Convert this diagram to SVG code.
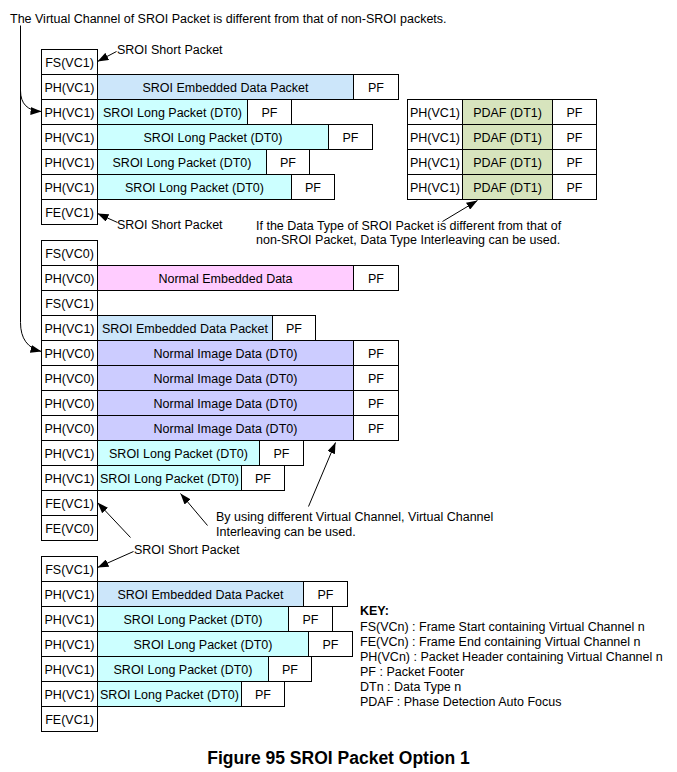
<svg xmlns="http://www.w3.org/2000/svg" width="677" height="772" viewBox="0 0 677 772">
<defs>
<style>
.c{fill:#fff;stroke:#000;stroke-width:1}
.be{fill:#cce6fa;stroke:#000;stroke-width:1}
.sl{fill:#ccffff;stroke:#000;stroke-width:1}
.ne{fill:#ffccff;stroke:#000;stroke-width:1}
.ni{fill:#ccccff;stroke:#000;stroke-width:1}
.pd{fill:#d7e4bd;stroke:#000;stroke-width:1}
text{font-family:"Liberation Sans",Arial,sans-serif;font-size:12.5px;fill:#000}
.m{text-anchor:middle}
.k{font-weight:bold}
.cap{font-weight:bold;font-size:17.5px}
.ln{fill:none;stroke:#000;stroke-width:1;marker-end:url(#ah)}
</style>
<marker id="ah" markerUnits="userSpaceOnUse" markerWidth="11" markerHeight="8" refX="11" refY="4" orient="auto">
<path d="M0,0 L11,4 L0,8 z" fill="#000"/>
</marker>
</defs>
<rect x="0" y="0" width="677" height="772" fill="#fff"/>
<text x="10" y="23">The Virtual Channel of SROI Packet is different from that of non-SROI packets.</text>
<g transform="translate(0.5,0.5)">
<!-- Section 1 -->
<g id="s1-fs"><rect class="c" x="41" y="49" width="56" height="25"/><text class="m" x="69" y="66">FS(VC1)</text></g>
<g id="s1-r1"><rect class="c" x="41" y="74" width="56" height="25"/><text class="m" x="69" y="91">PH(VC1)</text><rect class="be" x="97" y="74" width="256" height="25"/><text class="m" x="225" y="91">SROI Embedded Data Packet</text><rect class="c" x="353" y="74" width="45" height="25"/><text class="m" x="375.5" y="91">PF</text></g>
<g id="s1-r2"><rect class="c" x="41" y="99" width="56" height="25"/><text class="m" x="69" y="116">PH(VC1)</text><rect class="sl" x="97" y="99" width="150" height="25"/><text class="m" x="172" y="116">SROI Long Packet (DT0)</text><rect class="c" x="247" y="99" width="44" height="25"/><text class="m" x="269" y="116">PF</text></g>
<g id="s1-r3"><rect class="c" x="41" y="124" width="56" height="25"/><text class="m" x="69" y="141">PH(VC1)</text><rect class="sl" x="97" y="124" width="231" height="25"/><text class="m" x="212.5" y="141">SROI Long Packet (DT0)</text><rect class="c" x="328" y="124" width="44" height="25"/><text class="m" x="350" y="141">PF</text></g>
<g id="s1-r4"><rect class="c" x="41" y="149" width="56" height="25"/><text class="m" x="69" y="166">PH(VC1)</text><rect class="sl" x="97" y="149" width="169" height="25"/><text class="m" x="181.5" y="166">SROI Long Packet (DT0)</text><rect class="c" x="266" y="149" width="43" height="25"/><text class="m" x="287.5" y="166">PF</text></g>
<g id="s1-r5"><rect class="c" x="41" y="174" width="56" height="25"/><text class="m" x="69" y="191">PH(VC1)</text><rect class="sl" x="97" y="174" width="194" height="25"/><text class="m" x="194" y="191">SROI Long Packet (DT0)</text><rect class="c" x="291" y="174" width="43" height="25"/><text class="m" x="312.5" y="191">PF</text></g>
<g id="s1-fe"><rect class="c" x="41" y="199" width="56" height="25"/><text class="m" x="69" y="216">FE(VC1)</text></g>
<!-- PDAF -->
<g id="pdaf1"><rect class="c" x="407" y="99" width="55" height="25"/><text class="m" x="434.5" y="116">PH(VC1)</text><rect class="pd" x="462" y="99" width="90" height="25"/><text class="m" x="507" y="116">PDAF (DT1)</text><rect class="c" x="552" y="99" width="44" height="25"/><text class="m" x="574" y="116">PF</text></g>
<g id="pdaf2"><rect class="c" x="407" y="124" width="55" height="25"/><text class="m" x="434.5" y="141">PH(VC1)</text><rect class="pd" x="462" y="124" width="90" height="25"/><text class="m" x="507" y="141">PDAF (DT1)</text><rect class="c" x="552" y="124" width="44" height="25"/><text class="m" x="574" y="141">PF</text></g>
<g id="pdaf3"><rect class="c" x="407" y="149" width="55" height="25"/><text class="m" x="434.5" y="166">PH(VC1)</text><rect class="pd" x="462" y="149" width="90" height="25"/><text class="m" x="507" y="166">PDAF (DT1)</text><rect class="c" x="552" y="149" width="44" height="25"/><text class="m" x="574" y="166">PF</text></g>
<g id="pdaf4"><rect class="c" x="407" y="174" width="55" height="25"/><text class="m" x="434.5" y="191">PH(VC1)</text><rect class="pd" x="462" y="174" width="90" height="25"/><text class="m" x="507" y="191">PDAF (DT1)</text><rect class="c" x="552" y="174" width="44" height="25"/><text class="m" x="574" y="191">PF</text></g>
<!-- Section 2 -->
<g id="s2-fs0"><rect class="c" x="41" y="240" width="56" height="25"/><text class="m" x="69" y="257">FS(VC0)</text></g>
<g id="s2-r1"><rect class="c" x="41" y="265" width="56" height="25"/><text class="m" x="69" y="282">PH(VC0)</text><rect class="ne" x="97" y="265" width="256" height="25"/><text class="m" x="225" y="282">Normal Embedded Data</text><rect class="c" x="353" y="265" width="45" height="25"/><text class="m" x="375.5" y="282">PF</text></g>
<g id="s2-fs1"><rect class="c" x="41" y="290" width="56" height="25"/><text class="m" x="69" y="307">FS(VC1)</text></g>
<g id="s2-r2"><rect class="c" x="41" y="315" width="56" height="25"/><text class="m" x="69" y="332">PH(VC1)</text><rect class="be" x="97" y="315" width="175" height="25"/><text class="m" x="184.5" y="332">SROI Embedded Data Packet</text><rect class="c" x="272" y="315" width="43" height="25"/><text class="m" x="293.5" y="332">PF</text></g>
<g id="s2-r3"><rect class="c" x="41" y="340" width="56" height="25"/><text class="m" x="69" y="357">PH(VC0)</text><rect class="ni" x="97" y="340" width="256" height="25"/><text class="m" x="225" y="357">Normal Image Data (DT0)</text><rect class="c" x="353" y="340" width="45" height="25"/><text class="m" x="375.5" y="357">PF</text></g>
<g id="s2-r4"><rect class="c" x="41" y="365" width="56" height="25"/><text class="m" x="69" y="382">PH(VC0)</text><rect class="ni" x="97" y="365" width="256" height="25"/><text class="m" x="225" y="382">Normal Image Data (DT0)</text><rect class="c" x="353" y="365" width="45" height="25"/><text class="m" x="375.5" y="382">PF</text></g>
<g id="s2-r5"><rect class="c" x="41" y="390" width="56" height="25"/><text class="m" x="69" y="407">PH(VC0)</text><rect class="ni" x="97" y="390" width="256" height="25"/><text class="m" x="225" y="407">Normal Image Data (DT0)</text><rect class="c" x="353" y="390" width="45" height="25"/><text class="m" x="375.5" y="407">PF</text></g>
<g id="s2-r6"><rect class="c" x="41" y="415" width="56" height="25"/><text class="m" x="69" y="432">PH(VC0)</text><rect class="ni" x="97" y="415" width="256" height="25"/><text class="m" x="225" y="432">Normal Image Data (DT0)</text><rect class="c" x="353" y="415" width="45" height="25"/><text class="m" x="375.5" y="432">PF</text></g>
<g id="s2-r7"><rect class="c" x="41" y="440" width="56" height="25"/><text class="m" x="69" y="457">PH(VC1)</text><rect class="sl" x="97" y="440" width="162" height="25"/><text class="m" x="178" y="457">SROI Long Packet (DT0)</text><rect class="c" x="259" y="440" width="44" height="25"/><text class="m" x="281" y="457">PF</text></g>
<g id="s2-r8"><rect class="c" x="41" y="465" width="56" height="25"/><text class="m" x="69" y="482">PH(VC1)</text><rect class="sl" x="97" y="465" width="144" height="25"/><text class="m" x="169" y="482">SROI Long Packet (DT0)</text><rect class="c" x="241" y="465" width="43" height="25"/><text class="m" x="262.5" y="482">PF</text></g>
<g id="s2-fe1"><rect class="c" x="41" y="490" width="56" height="25"/><text class="m" x="69" y="507">FE(VC1)</text></g>
<g id="s2-fe0"><rect class="c" x="41" y="515" width="56" height="25"/><text class="m" x="69" y="532">FE(VC0)</text></g>
<!-- Section 3 -->
<g id="s3-fs"><rect class="c" x="41" y="556" width="56" height="25"/><text class="m" x="69" y="573">FS(VC1)</text></g>
<g id="s3-r1"><rect class="c" x="41" y="581" width="56" height="25"/><text class="m" x="69" y="598">PH(VC1)</text><rect class="be" x="97" y="581" width="206" height="25"/><text class="m" x="200" y="598">SROI Embedded Data Packet</text><rect class="c" x="303" y="581" width="44" height="25"/><text class="m" x="325" y="598">PF</text></g>
<g id="s3-r2"><rect class="c" x="41" y="606" width="56" height="25"/><text class="m" x="69" y="623">PH(VC1)</text><rect class="sl" x="97" y="606" width="191" height="25"/><text class="m" x="192.5" y="623">SROI Long Packet (DT0)</text><rect class="c" x="288" y="606" width="44" height="25"/><text class="m" x="310" y="623">PF</text></g>
<g id="s3-r3"><rect class="c" x="41" y="631" width="56" height="25"/><text class="m" x="69" y="648">PH(VC1)</text><rect class="sl" x="97" y="631" width="211" height="25"/><text class="m" x="202.5" y="648">SROI Long Packet (DT0)</text><rect class="c" x="308" y="631" width="44" height="25"/><text class="m" x="330" y="648">PF</text></g>
<g id="s3-r4"><rect class="c" x="41" y="656" width="56" height="25"/><text class="m" x="69" y="673">PH(VC1)</text><rect class="sl" x="97" y="656" width="171" height="25"/><text class="m" x="182.5" y="673">SROI Long Packet (DT0)</text><rect class="c" x="268" y="656" width="43" height="25"/><text class="m" x="289.5" y="673">PF</text></g>
<g id="s3-r5"><rect class="c" x="41" y="681" width="56" height="25"/><text class="m" x="69" y="698">PH(VC1)</text><rect class="sl" x="97" y="681" width="144" height="25"/><text class="m" x="169" y="698">SROI Long Packet (DT0)</text><rect class="c" x="241" y="681" width="43" height="25"/><text class="m" x="262.5" y="698">PF</text></g>
<g id="s3-fe"><rect class="c" x="41" y="706" width="56" height="25"/><text class="m" x="69" y="723">FE(VC1)</text></g>
<!-- Connectors -->
<g id="connectors">
<path class="ln" d="M20,25 V322 Q20,346 41,351"/>
<path class="ln" d="M20,90 Q20,110 41,111"/>
<path class="ln" d="M116,51 L97,61"/>
<path class="ln" d="M117,222 L97,213"/>
<path class="ln" d="M133,551 L97,567"/>
<path class="ln" d="M130,537 L97,502"/>
<path class="ln" d="M207,525 L180,493"/>
<path class="ln" d="M308,506 L335,442"/>
<path class="ln" d="M442,221 L477,200"/>
</g>
</g>
<!-- Labels -->
<text x="117" y="54">SROI Short Packet</text>
<text x="117" y="229">SROI Short Packet</text>
<text x="256" y="230">If the Data Type of SROI Packet is different from that of</text>
<text x="256" y="244">non-SROI Packet, Data Type Interleaving can be used.</text>
<text x="216" y="521">By using different Virtual Channel, Virtual Channel</text>
<text x="216" y="536">Interleaving can be used.</text>
<text x="134" y="554">SROI Short Packet</text>
<g id="key">
<text class="k" x="360" y="615">KEY:</text>
<text x="360" y="631">FS(VCn) : Frame Start containing Virtual Channel n</text>
<text x="360" y="646">FE(VCn) : Frame End containing Virtual Channel n</text>
<text x="360" y="661">PH(VCn) : Packet Header containing Virtual Channel n</text>
<text x="360" y="676">PF : Packet Footer</text>
<text x="360" y="691">DTn : Data Type n</text>
<text x="360" y="706">PDAF : Phase Detection Auto Focus</text>
</g>
<text class="cap m" x="338.5" y="764">Figure 95 SROI Packet Option 1</text>
</svg>
